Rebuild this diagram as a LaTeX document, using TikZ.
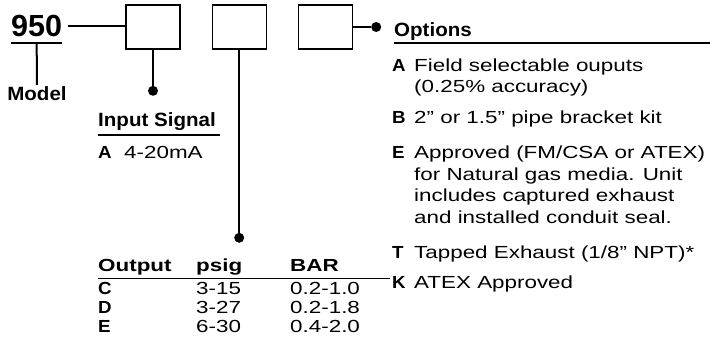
\documentclass[tikz,border=0pt]{standalone}
\usepackage{fontspec}
\setmainfont{Liberation Sans}
\newfontfamily\bodyfont[FakeStretch=1.28]{Liberation Sans}
\newfontfamily\headfont[FakeStretch=1.07]{Liberation Sans}
\usetikzlibrary{positioning}

\begin{document}
\begin{tikzpicture}[
    x=1pt, y=-1pt,
    node distance=31pt,
    codebox/.style={draw, line width=1.2pt, minimum width=54pt, minimum height=44pt, inner sep=0pt},
    dot/.style={circle, fill, inner sep=0pt, minimum size=10pt},
    conn/.style={line width=2pt},
    rule/.style={line width=1.2pt},
    head/.style={inner sep=0pt, anchor=base west, font=\headfont\bfseries\fontsize{19.2}{23}\selectfont},
    txt/.style={inner sep=0pt, anchor=base west, align=left, font=\bodyfont\fontsize{17.5}{21.7}\selectfont},
    key/.style={txt, font=\headfont\bfseries\fontsize{17.5}{21.7}\selectfont},
    colhead/.style={txt, font=\bodyfont\bfseries\fontsize{17.5}{21.7}\selectfont}
]
\useasboundingbox (0,0) rectangle (710,345);

% model number and the three code boxes
\node[anchor=base west, inner sep=0pt, font=\bfseries\fontsize{30.5}{30.5}\selectfont] (model) at (11,36.7) {950};
\node[codebox] (box1) at (153,27) {};
\node[codebox, right=of box1] (box2) {};
\node[codebox, right=of box2] (box3) {};

\coordinate (ulw) at ([yshift=-6.3pt]model.base west);
\coordinate (ule) at ([yshift=-6.3pt]model.base east);
\coordinate (ul) at ([yshift=-6.3pt]model.base);
\node[head, anchor=base, inner sep=2pt] (modelname) at (37,101) {Model};

\draw[line width=2.5pt] (ulw) -- (ule);
\draw[conn] (ul) -- (modelname.north);
\draw[conn] ([xshift=6pt]model.east) -- (model.east -| box1.west);

\node[dot, below=36pt of box1] (dot1) {};
\node[dot, below=183pt of box2] (dot2) {};
\node[dot, right=18pt of box3] (dot3) {};

\draw[conn] (box1.south) -- (dot1);
\draw[conn] (box2.south) -- (dot2);
\draw[conn] (box3.east) -- (dot3);

% input signal
\node[head] (inhead) at (98,126.5) {Input Signal};
\coordinate (inrule) at (220,135);
\draw[rule] (inhead.base west |- inrule) -- (inrule);
\node[key] (inA) at (98,158) {A};
\node[txt] (inAtxt) at (124,158) {4-20mA};

% output table
\node[colhead] (outhead) at (98,271) {Output};
\node[colhead] (psighead) at (196,271) {psig};
\node[colhead] (barhead) at (290,271) {BAR};
\coordinate (outrule) at (390,278.5);
\draw[rule] (outhead.base west |- outrule) -- (outrule);
\node[key] (outC) at (98,294.5) {C};
\node[txt] (psigC) at (196,294.5) {3-15};
\node[txt] (barC) at (290,294.5) {0.2-1.0};
\node[key] (outD) at (98,313.5) {D};
\node[txt] (psigD) at (196,313.5) {3-27};
\node[txt] (barD) at (290,313.5) {0.2-1.8};
\node[key] (outE) at (98,332.5) {E};
\node[txt] (psigE) at (196,332.5) {6-30};
\node[txt] (barE) at (290,332.5) {0.4-2.0};

% options (multi-line texts sit on their last line)
\node[head] (opthead) at (394,36.7) {Options};
\coordinate (optrule) at (710,43);
\draw[rule] (opthead.base west |- optrule) -- (optrule);
\node[key] (optA) at (392,71) {A};
\node[txt] (optAtxt) at (414,92.7) {Field selectable ouputs\\(0.25\% accuracy)};
\node[key] (optB) at (392,123) {B};
\node[txt] (optBtxt) at (414,123) {2” or 1.5” pipe bracket kit};
\node[key] (optE) at (392,158.5) {E};
\node[txt] (optEtxt) at (414,223.6) {Approved (FM/CSA or ATEX)\\for Natural gas media. Unit\\includes captured exhaust\\and installed conduit seal.};
\node[key] (optT) at (392,258.5) {T};
\node[txt] (optTtxt) at (414,258.5) {Tapped Exhaust (1/8” NPT)*};
\node[key] (optK) at (392,288.5) {K};
\node[txt] (optKtxt) at (414,288.5) {ATEX Approved};

\end{tikzpicture}
\end{document}
